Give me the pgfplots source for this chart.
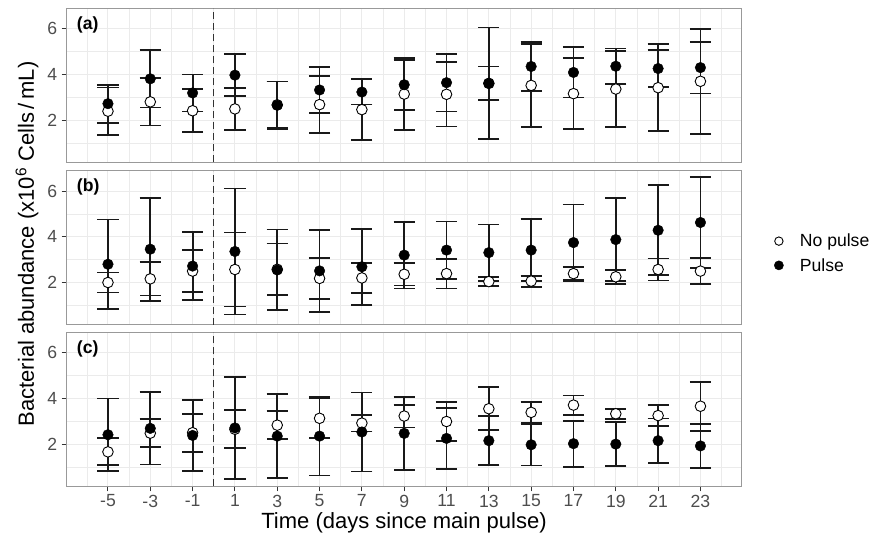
\documentclass[border=0pt]{standalone}
\usepackage{fontspec}
\setmainfont{Liberation Sans}
\usepackage{pgfplots}
\usepackage{pgfplotstable}
\pgfplotsset{compat=1.18}

\definecolor{gridgray}{HTML}{EBEBEB}
\definecolor{framegray}{HTML}{999999}
\definecolor{tickgray}{HTML}{333333}
\definecolor{labgray}{HTML}{4D4D4D}

\newcommand\tickfont{\fontsize{17.6}{20}\selectfont}
\newcommand\titlefont{\fontsize{22}{26}\selectfont}
\newcommand\tagfont{\fontsize{17.6}{20}\selectfont\bfseries}

% x  np(mean) npe(sd)  p(mean) pe(sd)
\pgfplotstableread{
x   np   npe  p    pe
-5  2.39 1.04 2.72 0.83
-3  2.80 1.04 3.81 1.26
-1  2.41 0.94 3.19 0.81
1   2.49 0.93 3.97 0.91
3   2.67 1.02 2.65 1.04
5   2.68 1.25 3.32 1.00
7   2.46 1.34 3.23 0.55
9   3.14 1.57 3.55 1.09
11  3.13 1.41 3.64 1.26
13  3.61 0.74 3.61 2.45
15  3.52 1.83 4.35 1.08
17  3.16 1.55 4.09 1.10
19  3.36 1.67 4.36 0.78
21  3.42 1.90 4.26 0.81
23  3.70 2.30 4.30 1.13
}\tabA

\pgfplotstableread{
x   np   npe  p    pe
-5  2.00 0.44 2.80 1.96
-3  2.16 0.73 3.46 2.26
-1  2.50 0.93 2.72 1.48
1   2.57 1.62 3.36 2.76
3   2.58 1.13 2.55 1.77
5   2.18 0.90 2.51 1.80
7   2.20 0.67 2.69 1.67
9   2.36 0.49 3.20 1.46
11  2.39 0.65 3.42 1.25
13  2.04 0.20 3.31 1.23
15  2.06 0.24 3.42 1.37
17  2.39 0.28 3.75 1.67
19  2.25 0.30 3.88 1.83
21  2.57 0.48 4.29 1.97
23  2.50 0.56 4.63 1.98
}\tabB

\pgfplotstableread{
x   np   npe  p    pe
-5  1.66 0.59 2.41 1.59
-3  2.48 0.62 2.69 1.58
-1  2.50 0.83 2.38 1.57
1   2.65 0.83 2.71 2.23
3   2.83 0.62 2.35 1.83
5   3.13 0.87 2.35 1.73
7   2.92 0.37 2.53 1.73
9   3.23 0.50 2.47 1.60
11  2.99 0.87 2.25 1.33
13  3.55 0.94 2.15 1.07
15  3.39 0.47 1.97 0.91
17  3.71 0.42 2.02 1.01
19  3.33 0.22 2.00 0.97
21  3.25 0.47 2.15 0.97
23  3.66 1.07 1.92 0.97
}\tabC

\pgfplotsset{
  panel/.style={
    scale only axis, width=675pt, height=154pt,
    xmin=-6.95, xmax=24.95, ymin=0.15, ymax=6.9,
    xtick={-5,-3,-1,1,3,5,7,9,11,13,15,17,19,21,23},
    minor xtick={-6,-4,...,24},
    ytick={2,4,6}, minor ytick={1,3,5},
    grid=both,
    major grid style={draw=gridgray, line width=1pt},
    minor grid style={draw=gridgray, line width=0.6pt},
    axis line style={draw=framegray, line width=1.1pt},
    tick align=outside, tick pos=left,
    major tick length=5pt, minor tick length=0pt,
    tick style={draw=tickgray, line width=1pt},
    /pgf/number format/assume math mode=true,
    yticklabel style={font=\tickfont, text=labgray, xshift=-1pt},
    xticklabel style={font=\tickfont, text=labgray},
    clip=false,
  },
  ebar/.style={draw=black, line width=1.8pt, mark=none, only marks, forget plot,
    error bars/.cd, y dir=both, y explicit, error mark=|,
    error bar style={line width=1.8pt, draw=black!90},
    error mark options={mark size=10.6pt, line width=1.8pt, draw=black!90}},
  nopulse/.style={only marks, mark=*, mark size=5.3pt,
    mark options={draw=black, fill=white, line width=0.9pt}},
  pulse/.style={only marks, mark=*, mark size=5.3pt,
    mark options={draw=black, fill=black}},
  zeroline/.style={dashed, dash pattern=on 7pt off 4pt, tickgray, line width=1.1pt, forget plot},
}

\begin{document}
\begin{tikzpicture}[x=1pt,y=1pt]
\path[use as bounding box] (0,0) rectangle (880,-536);

% (a)
\begin{axis}[panel, at={(66.7pt,-8.3pt)}, anchor=north west,
  xticklabels={}, xtick style={draw=none}]
\addplot[zeroline] coordinates {(0,0.15) (0,6.9)};
\addplot[ebar] table[x=x, y=np, y error=npe] {\tabA};
\addplot[ebar] table[x=x, y=p, y error=pe] {\tabA};
\addplot[nopulse] table[x=x, y=np] {\tabA};
\addplot[pulse] table[x=x, y=p] {\tabA};
\node[font=\tagfont, anchor=north west, inner sep=0pt] at ([xshift=10pt,yshift=-8pt]rel axis cs:0,1) {(a)};
\end{axis}

% (b)
\begin{axis}[panel, at={(66.7pt,-170.7pt)}, anchor=north west,
  xticklabels={}, xtick style={draw=none},
  legend style={draw=none, fill=none, at={(axis description cs:1.037,0.464)},
    anchor=west, font=\fontsize{17.6}{20}\selectfont, row sep=8pt,
    nodes={inner sep=1pt}},
  legend cell align=left]
\addplot[zeroline] coordinates {(0,0.15) (0,6.9)};
\addplot[ebar] table[x=x, y=np, y error=npe] {\tabB};
\addplot[ebar] table[x=x, y=p, y error=pe] {\tabB};
\addplot[nopulse, forget plot] table[x=x, y=np] {\tabB};
\addplot[pulse, forget plot] table[x=x, y=p] {\tabB};
\addlegendimage{legend image code/.code={\path[draw=none, fill=none] (0pt,-4pt) rectangle (29pt,4pt);
  \draw[black, fill=white, line width=0.9pt] (9pt,0pt) circle (4.2pt);}}
\addlegendentry{No pulse}
\addlegendimage{legend image code/.code={\path[draw=none, fill=none] (0pt,-4pt) rectangle (29pt,4pt);
  \fill[black] (9pt,0pt) circle (4.6pt);}}
\addlegendentry{Pulse}
\node[font=\tagfont, anchor=north west, inner sep=0pt] at ([xshift=10pt,yshift=-8pt]rel axis cs:0,1) {(b)};
\end{axis}

% (c)
\begin{axis}[panel, at={(66.7pt,-332.3pt)}, anchor=north west,
  xticklabels={-5,-3,-1,1,3,5,7,9,11,13,15,17,19,21,23}]
\addplot[zeroline] coordinates {(0,0.15) (0,6.9)};
\addplot[ebar] table[x=x, y=np, y error=npe] {\tabC};
\addplot[ebar] table[x=x, y=p, y error=pe] {\tabC};
\addplot[nopulse] table[x=x, y=np] {\tabC};
\addplot[pulse] table[x=x, y=p] {\tabC};
\node[font=\tagfont, anchor=north west, inner sep=0pt] at ([xshift=10pt,yshift=-8pt]rel axis cs:0,1) {(c)};
\end{axis}

\node[font=\titlefont, anchor=base] at (404,-528) {Time (days since main pulse)};
\node[font=\titlefont, rotate=90] at (27,-244) {Bacterial abundance (x10\textsuperscript{6} Cells\,/\,mL)};
\end{tikzpicture}
\end{document}
